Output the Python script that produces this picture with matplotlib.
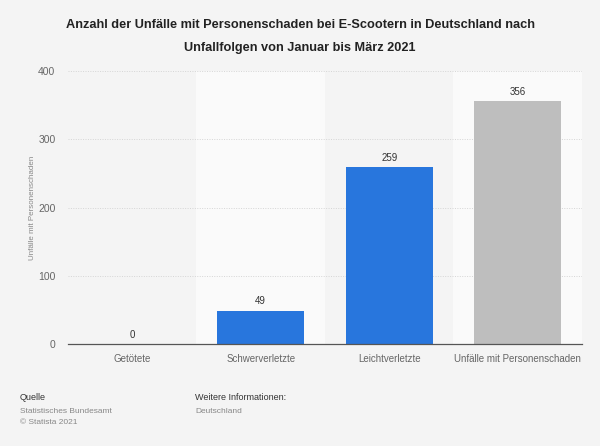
import matplotlib
matplotlib.use("Agg")
import matplotlib.pyplot as plt

plt.rcParams['font.family'] = ['Liberation Sans', 'DejaVu Sans']

categories = ["Getötete", "Schwerverletzte", "Leichtverletzte", "Unfälle mit Personenschaden"]
values = [0, 49, 259, 356]
colors = ["#2876dd", "#2876dd", "#2876dd", "#bebebe"]
yticks = [0, 100, 200, 300, 400]

fig = plt.figure(figsize=(6, 4.46), dpi=100)
fig.patch.set_facecolor("#f4f4f4")
ax = fig.add_axes([0.1133, 0.2287, 0.8567, 0.6121])
ax.set_facecolor("#f4f4f4")

x = list(range(len(categories)))
for i in x:
    if i % 2 == 1:
        ax.axvspan(i - 0.5, i + 0.5, color="#fafafa", zorder=0, lw=0)

bars = ax.bar(x, values, width=0.68, color=colors, zorder=3)
for xi, v in zip(x, values):
    ax.text(xi, v + 6, f"{v}", ha="center", va="bottom", fontsize=7, color="#333333", zorder=4)

ax.set_xlim(-0.5, len(categories) - 0.5)
ax.set_ylim(0, 400)
ax.set_yticks(yticks)
ax.set_yticklabels([str(t) for t in yticks], fontsize=7.5, color="#666666")
ax.set_xticks(x)
ax.set_xticklabels(categories, fontsize=7, color="#666666")
ax.tick_params(axis="both", length=0)
ax.tick_params(axis="y", pad=9)
ax.tick_params(axis="x", pad=7)
for t in yticks[1:]:
    ax.axhline(t, color="#d5d5d5", lw=0.7, ls=(0, (1, 1.5)), zorder=1)
for s in ["top", "right", "left"]:
    ax.spines[s].set_visible(False)
ax.spines["bottom"].set_color("#555555")
ax.spines["bottom"].set_linewidth(0.9)
ax.spines["bottom"].set_zorder(5)

ax.set_ylabel("Unfälle mit Personenschaden", fontsize=5.8, color="#888888")
ax.yaxis.set_label_coords(-0.062, 0.5)

fig.text(0.5, 0.958, "Anzahl der Unfälle mit Personenschaden bei E-Scootern in Deutschland nach\nUnfallfolgen von Januar bis März 2021",
         ha="center", va="top", fontsize=9.2, fontweight="bold", color="#222222", linespacing=2.2)

fig.text(0.033, 0.103, "Quelle", fontsize=6.5, color="#333333")
fig.text(0.033, 0.075, "Statistisches Bundesamt", fontsize=6, color="#888888")
fig.text(0.033, 0.05, "© Statista 2021", fontsize=6, color="#888888")
fig.text(0.325, 0.103, "Weitere Informationen:", fontsize=6.5, color="#333333")
fig.text(0.325, 0.075, "Deutschland", fontsize=6, color="#888888")

fig.savefig("out.png", dpi=100, facecolor=fig.get_facecolor())
